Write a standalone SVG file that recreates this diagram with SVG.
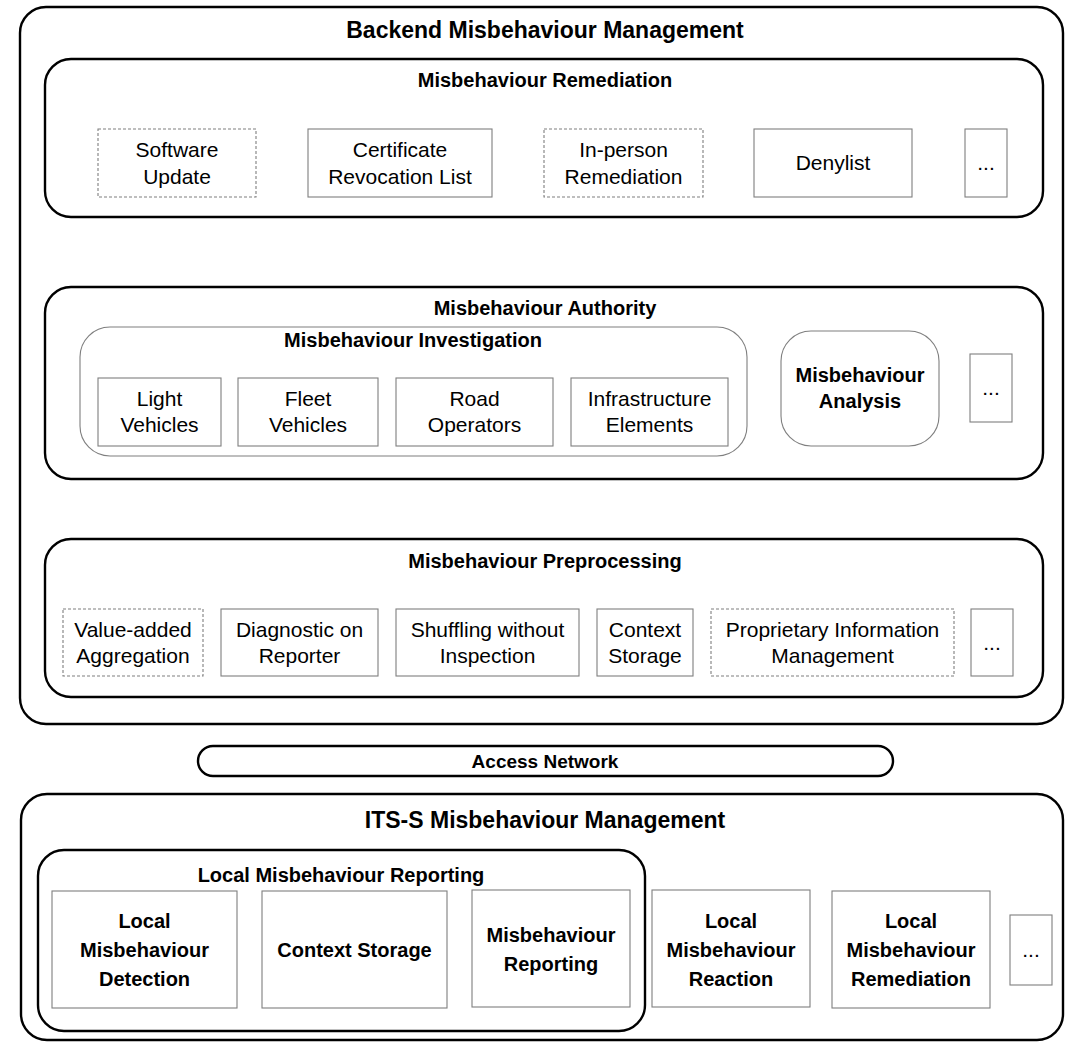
<svg xmlns="http://www.w3.org/2000/svg" width="1071" height="1044" viewBox="0 0 1071 1044">
  <style>
    .frame { fill: #ffffff; stroke: #000000; stroke-width: 2.4; }
    .inner { fill: #ffffff; stroke: #7f7f7f; stroke-width: 1.1; }
    .item { fill: #ffffff; stroke: #7f7f7f; stroke-width: 1.1; }
    .opt { fill: #ffffff; stroke: #7f7f7f; stroke-width: 1.1; stroke-dasharray: 3 2; }
    text { font-family: "Liberation Sans", Arial, sans-serif; fill: #000000; text-anchor: middle; }
    .h1 { font-size: 23px; font-weight: bold; }
    .h2 { font-size: 20px; font-weight: bold; }
    .hb { font-size: 20px; font-weight: bold; }
    .t { font-size: 21px; }
    .an { font-size: 19px; font-weight: bold; }
  </style>

  <!-- Backend side -->
  <g id="backend">
    <rect class="frame" x="20" y="7" width="1043" height="717" rx="26"/>
    <text class="h1" x="545" y="38">Backend Misbehaviour Management</text>
  </g>

  <g id="remediation">
    <rect class="frame" x="45" y="59" width="998" height="158" rx="26"/>
    <text class="h2" x="545" y="87">Misbehaviour Remediation</text>
  </g>
  <g id="software-update">
    <rect class="opt" x="98" y="129" width="158" height="68"/>
    <text class="t" x="177" y="157">Software</text>
    <text class="t" x="177" y="184">Update</text>
  </g>
  <g id="crl">
    <rect class="item" x="308" y="129" width="184" height="68"/>
    <text class="t" x="400" y="157">Certificate</text>
    <text class="t" x="400" y="184">Revocation List</text>
  </g>
  <g id="in-person">
    <rect class="opt" x="544" y="129" width="159" height="68"/>
    <text class="t" x="623.5" y="157">In-person</text>
    <text class="t" x="623.5" y="184">Remediation</text>
  </g>
  <g id="denylist">
    <rect class="item" x="754" y="129" width="158" height="68"/>
    <text class="t" x="833" y="170">Denylist</text>
  </g>
  <g id="remediation-more">
    <rect class="item" x="965" y="129" width="42" height="68"/>
    <text class="t" x="986" y="170">...</text>
  </g>

  <g id="authority">
    <rect class="frame" x="45" y="287" width="998" height="192" rx="26"/>
    <text class="h2" x="545" y="315">Misbehaviour Authority</text>
  </g>
  <g id="investigation">
    <rect class="inner" x="80" y="327" width="667" height="129" rx="30"/>
    <text class="h2" x="413" y="347">Misbehaviour Investigation</text>
  </g>
  <g id="light-vehicles">
    <rect class="item" x="98" y="378" width="123" height="68"/>
    <text class="t" x="159.5" y="406">Light</text>
    <text class="t" x="159.5" y="432">Vehicles</text>
  </g>
  <g id="fleet-vehicles">
    <rect class="item" x="238" y="378" width="140" height="68"/>
    <text class="t" x="308" y="406">Fleet</text>
    <text class="t" x="308" y="432">Vehicles</text>
  </g>
  <g id="road-operators">
    <rect class="item" x="396" y="378" width="157" height="68"/>
    <text class="t" x="474.5" y="406">Road</text>
    <text class="t" x="474.5" y="432">Operators</text>
  </g>
  <g id="infrastructure">
    <rect class="item" x="571" y="378" width="157" height="68"/>
    <text class="t" x="649.5" y="406">Infrastructure</text>
    <text class="t" x="649.5" y="432">Elements</text>
  </g>
  <g id="analysis">
    <rect class="inner" x="781" y="331" width="158" height="115" rx="30"/>
    <text class="hb" x="860" y="382">Misbehaviour</text>
    <text class="hb" x="860" y="408">Analysis</text>
  </g>
  <g id="authority-more">
    <rect class="item" x="970" y="354" width="42" height="68"/>
    <text class="t" x="991" y="395">...</text>
  </g>

  <g id="preprocessing">
    <rect class="frame" x="45" y="539" width="998" height="158" rx="26"/>
    <text class="h2" x="545" y="568">Misbehaviour Preprocessing</text>
  </g>
  <g id="value-added">
    <rect class="opt" x="63" y="609" width="140" height="67"/>
    <text class="t" x="133" y="637">Value-added</text>
    <text class="t" x="133" y="663">Aggregation</text>
  </g>
  <g id="diagnostic">
    <rect class="item" x="221" y="609" width="157" height="67"/>
    <text class="t" x="299.5" y="637">Diagnostic on</text>
    <text class="t" x="299.5" y="663">Reporter</text>
  </g>
  <g id="shuffling">
    <rect class="item" x="396" y="609" width="183" height="67"/>
    <text class="t" x="487.5" y="637">Shuffling without</text>
    <text class="t" x="487.5" y="663">Inspection</text>
  </g>
  <g id="context-storage-backend">
    <rect class="item" x="597" y="609" width="96" height="67"/>
    <text class="t" x="645" y="637">Context</text>
    <text class="t" x="645" y="663">Storage</text>
  </g>
  <g id="proprietary">
    <rect class="opt" x="711" y="609" width="243" height="67"/>
    <text class="t" x="832.5" y="637">Proprietary Information</text>
    <text class="t" x="832.5" y="663">Management</text>
  </g>
  <g id="preprocessing-more">
    <rect class="item" x="971" y="609" width="42" height="67"/>
    <text class="t" x="992" y="650">...</text>
  </g>

  <!-- Link between backend and stations -->
  <g id="access-network">
    <rect class="frame" x="198" y="746" width="695" height="30" rx="15"/>
    <text class="an" x="545" y="768">Access Network</text>
  </g>

  <!-- Station side -->
  <g id="its-s">
    <rect class="frame" x="21" y="794" width="1042" height="246" rx="26"/>
    <text class="h1" x="545" y="828">ITS-S Misbehaviour Management</text>
  </g>
  <g id="local-reporting">
    <rect class="frame" x="38" y="850" width="607" height="181" rx="26"/>
    <text class="h2" x="341" y="882">Local Misbehaviour Reporting</text>
  </g>
  <g id="local-detection">
    <rect class="item" x="52" y="891" width="185" height="117"/>
    <text class="hb" x="144.5" y="928">Local</text>
    <text class="hb" x="144.5" y="957">Misbehaviour</text>
    <text class="hb" x="144.5" y="986">Detection</text>
  </g>
  <g id="context-storage-local">
    <rect class="item" x="262" y="891" width="185" height="117"/>
    <text class="hb" x="354.5" y="957">Context Storage</text>
  </g>
  <g id="misbehaviour-reporting">
    <rect class="item" x="472" y="890" width="158" height="117"/>
    <text class="hb" x="551" y="942">Misbehaviour</text>
    <text class="hb" x="551" y="971">Reporting</text>
  </g>
  <g id="local-reaction">
    <rect class="item" x="652" y="890" width="158" height="117"/>
    <text class="hb" x="731" y="928">Local</text>
    <text class="hb" x="731" y="957">Misbehaviour</text>
    <text class="hb" x="731" y="986">Reaction</text>
  </g>
  <g id="local-remediation">
    <rect class="item" x="832" y="891" width="158" height="117"/>
    <text class="hb" x="911" y="928">Local</text>
    <text class="hb" x="911" y="957">Misbehaviour</text>
    <text class="hb" x="911" y="986">Remediation</text>
  </g>
  <g id="station-more">
    <rect class="item" x="1010" y="915" width="42" height="70"/>
    <text class="t" x="1031" y="957">...</text>
  </g>
</svg>
